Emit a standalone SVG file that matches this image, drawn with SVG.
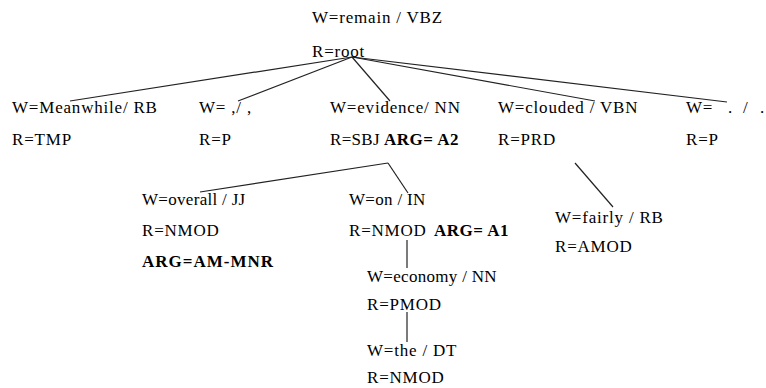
<svg xmlns="http://www.w3.org/2000/svg" width="766" height="388" viewBox="0 0 766 388">
<style>
text{font-family:"Liberation Serif","Times New Roman",serif;font-size:17px;letter-spacing:0.8px;fill:#000}
.b{font-weight:bold;letter-spacing:0.5px}
.t{letter-spacing:0.3px}
.w{letter-spacing:1px}
.c line{stroke:#222;stroke-width:1.2;fill:none}
</style>
<rect width="766" height="388" fill="#fff"/>
<g id="connectors" class="c">
<line x1="352" y1="57" x2="70" y2="101"/>
<line x1="352" y1="57" x2="238" y2="101"/>
<line x1="352" y1="57" x2="390" y2="101"/>
<line x1="352" y1="57" x2="595" y2="101"/>
<line x1="352" y1="57" x2="727" y2="102"/>
<line x1="388" y1="163" x2="200" y2="192"/>
<line x1="388" y1="163" x2="408" y2="193"/>
<line x1="407" y1="240" x2="407" y2="268"/>
<line x1="407" y1="312" x2="407" y2="342"/>
<line x1="575" y1="163" x2="613" y2="207"/>
</g>
<g id="remain">
<text x="312" y="23">W=remain / VBZ</text>
<text x="312" y="57">R=root</text>
</g>
<g id="meanwhile">
<text x="12" y="113">W=Meanwhile/ RB</text>
<text x="12" y="145">R=TMP</text>
</g>
<g id="comma">
<text x="199" y="113">W= ,/ ,</text>
<text x="199" y="145">R=P</text>
</g>
<g id="evidence">
<text x="330" y="113">W=evidence/ NN</text>
<text class="t" x="330" y="145">R=SBJ</text>
<text class="b" x="384" y="145">ARG= A2</text>
</g>
<g id="clouded">
<text x="498" y="113">W=clouded / VBN</text>
<text x="498" y="145">R=PRD</text>
</g>
<g id="period">
<text x="686" y="113">W=<tspan x="728">.</tspan><tspan x="743">/</tspan><tspan x="760">.</tspan></text>
<text x="686" y="145">R=P</text>
</g>
<g id="overall">
<text class="t" x="142" y="205">W=overall / JJ</text>
<text x="142" y="236">R=NMOD</text>
<text class="b w" x="142" y="267">ARG=AM-MNR</text>
</g>
<g id="on">
<text class="t" x="349" y="205">W=on / IN</text>
<text x="349" y="236">R=NMOD</text>
<text class="b" x="434" y="236">ARG= A1</text>
</g>
<g id="fairly">
<text x="555" y="223">W=fairly / RB</text>
<text x="555" y="252">R=AMOD</text>
</g>
<g id="economy">
<text class="t" x="367" y="282">W=economy / NN</text>
<text x="367" y="310">R=PMOD</text>
</g>
<g id="the">
<text x="367" y="356">W=the / DT</text>
<text x="367" y="383">R=NMOD</text>
</g>
</svg>
